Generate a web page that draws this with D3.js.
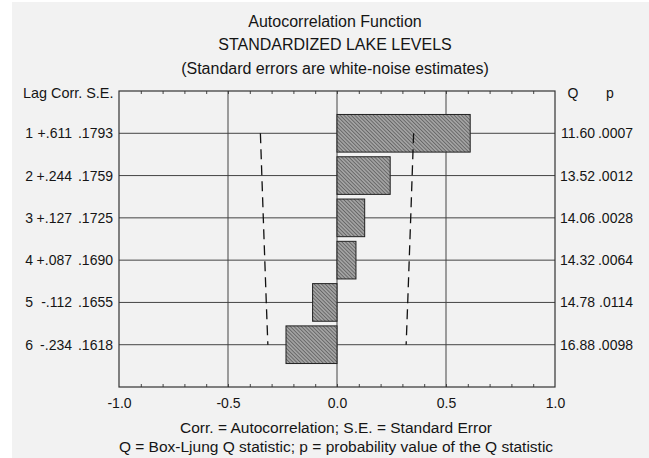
<!DOCTYPE html>
<html>
<head>
<meta charset="utf-8">
<script src="https://cdn.jsdelivr.net/npm/d3@7"></script>
<style>
  body { margin: 0; background: #fff; }
  svg text { font-family: "Liberation Sans", Arial, sans-serif; fill: #151515; }
</style>
</head>
<body>
<svg id="chart" width="649" height="458"></svg>
<script>
// chart values
const lags = [1, 2, 3, 4, 5, 6];
const corr = [0.611, 0.244, 0.127, 0.087, -0.112, -0.234];
const stdErr = [0.1793, 0.1759, 0.1725, 0.1690, 0.1655, 0.1618];
const qStat = [11.60, 13.52, 14.06, 14.32, 14.78, 16.88];
const pValue = [0.0007, 0.0012, 0.0028, 0.0064, 0.0114, 0.0098];
const xTicks = [-1.0, -0.5, 0.0, 0.5, 1.0];
const titleLines = ["Autocorrelation Function", "STANDARDIZED LAKE LEVELS", "(Standard errors are white-noise estimates)"];
const noteLines = ["Corr. = Autocorrelation; S.E. = Standard Error", "Q = Box-Ljung Q statistic; p = probability value of the Q statistic"];

const width = 649, height = 458;
const plotLeft = 119, plotRight = 555, plotTop = 91, plotBottom = 387;
const fontSize = 14;

const svg = d3.select("#chart");

// paper background
svg.append("rect")
  .attr("x", 12).attr("y", 2)
  .attr("width", width - 12).attr("height", height - 2)
  .style("fill", "#f2f2f2");

const x = d3.scaleLinear().domain([-1, 1]).range([plotLeft, plotRight]);
const y = d3.scaleLinear().domain([0, lags.length + 1]).range([plotTop, plotBottom]);

// hatch for the bars
const defs = svg.append("defs");
const pat = defs.append("pattern")
  .attr("id", "hatch")
  .attr("width", 2.6).attr("height", 2.6)
  .attr("patternUnits", "userSpaceOnUse")
  .attr("patternTransform", "rotate(-45)");
pat.append("rect").attr("width", 2.6).attr("height", 2.6).style("fill", "#a2a2a2");
pat.append("line").attr("x1", 0).attr("y1", 0).attr("x2", 0).attr("y2", 2.6)
  .style("stroke", "#4a4a4a").style("stroke-width", 1.2);

// titles
svg.selectAll(".title")
  .data(titleLines)
  .enter()
  .append("text")
    .attr("x", 335)
    .attr("y", (d, i) => 27 + i * 23.3)
    .text(d => d)
    .style("text-anchor", "middle")
    .style("font-size", 16);

// grid lines
svg.selectAll(".hgrid")
  .data(lags)
  .enter()
  .append("line")
    .attr("x1", plotLeft).attr("x2", plotRight)
    .attr("y1", d => y(d)).attr("y2", d => y(d))
    .style("stroke", "#444").style("stroke-width", 1);
svg.selectAll(".vgrid")
  .data([-0.5, 0, 0.5])
  .enter()
  .append("line")
    .attr("x1", d => x(d)).attr("x2", d => x(d))
    .attr("y1", plotTop).attr("y2", plotBottom)
    .style("stroke", "#444").style("stroke-width", 1);

// minor ticks on top and bottom, pointing in
const minor = d3.range(-9, 10).map(d => d / 10);
svg.append("g")
  .attr("transform", "translate(0," + plotTop + ")")
  .call(d3.axisTop(x).tickValues(minor).tickSize(-3).tickFormat(""))
  .call(g => g.select(".domain").remove())
  .selectAll("line").style("stroke", "#444");
svg.append("g")
  .attr("transform", "translate(0," + plotBottom + ")")
  .call(d3.axisBottom(x).tickValues(minor).tickSize(-3).tickFormat(""))
  .call(g => g.select(".domain").remove())
  .selectAll("line").style("stroke", "#444");

// x tick labels (plain hyphen for the minus sign)
svg.append("g")
  .attr("transform", "translate(0," + plotBottom + ")")
  .call(d3.axisBottom(x).tickValues(xTicks).tickSize(0).tickPadding(11)
    .tickFormat(d => d3.format(".1f")(d).replace("\u2212", "-")))
  .call(g => g.select(".domain").remove())
  .selectAll("text")
    .style("font-size", fontSize)
    .style("font-family", "Liberation Sans, Arial, sans-serif")
    .style("fill", "#151515");

// bars
const barH = (y(1) - y(0)) * 0.89;
svg.selectAll(".bars")
  .data(lags)
  .enter()
  .append("rect")
    .attr("x", (d, i) => x(Math.min(0, corr[i])))
    .attr("y", d => y(d) - barH / 2)
    .attr("width", (d, i) => Math.abs(x(corr[i]) - x(0)))
    .attr("height", barH)
    .style("fill", "url(#hatch)")
    .style("stroke", "#222")
    .style("stroke-width", 1);

// 1.96 * S.E. limits
const limit = d3.line().x(d => x(d[0])).y(d => y(d[1]));
[-1, 1].forEach(sign => {
  svg.append("path")
    .attr("d", limit(lags.map((d, i) => [sign * 1.96 * stdErr[i], d])))
    .style("fill", "none")
    .style("stroke", "#111")
    .style("stroke-width", 1.3)
    .style("stroke-dasharray", "10,6");
});

// frame
svg.append("rect")
  .attr("x", plotLeft).attr("y", plotTop)
  .attr("width", plotRight - plotLeft).attr("height", plotBottom - plotTop)
  .style("fill", "none").style("stroke", "#333").style("stroke-width", 1.2);

// left table
svg.append("text").attr("x", 23).attr("y", 98).text("Lag Corr. S.E.")
  .style("font-size", 14.4);
const fmtCorr = v => (v >= 0 ? "+" : "-") + Math.abs(v).toFixed(3).replace(/^0/, "");
const fmtDec = v => v.toFixed(4).replace(/^0/, "");
lags.forEach((d, i) => {
  const yy = y(d) + 5;
  svg.append("text").attr("x", 33).attr("y", yy).text(d)
    .style("text-anchor", "end").style("font-size", fontSize);
  svg.append("text").attr("x", 72).attr("y", yy).text(fmtCorr(corr[i]))
    .style("text-anchor", "end").style("font-size", fontSize);
  svg.append("text").attr("x", 113).attr("y", yy).text(fmtDec(stdErr[i]))
    .style("text-anchor", "end").style("font-size", fontSize);
  svg.append("text").attr("x", 595).attr("y", yy).text(qStat[i].toFixed(2))
    .style("text-anchor", "end").style("font-size", fontSize);
  svg.append("text").attr("x", 633).attr("y", yy).text(fmtDec(pValue[i]))
    .style("text-anchor", "end").style("font-size", fontSize);
});

// right table header
svg.append("text").attr("x", 573).attr("y", 98).text("Q")
  .style("text-anchor", "middle").style("font-size", fontSize);
svg.append("text").attr("x", 610).attr("y", 98).text("p")
  .style("text-anchor", "middle").style("font-size", fontSize);

// footnotes
svg.selectAll(".note")
  .data(noteLines)
  .enter()
  .append("text")
    .attr("x", 336)
    .attr("y", (d, i) => 433 + i * 19)
    .text(d => d)
    .style("text-anchor", "middle")
    .style("font-size", 15.5);
</script>
</body>
</html>
